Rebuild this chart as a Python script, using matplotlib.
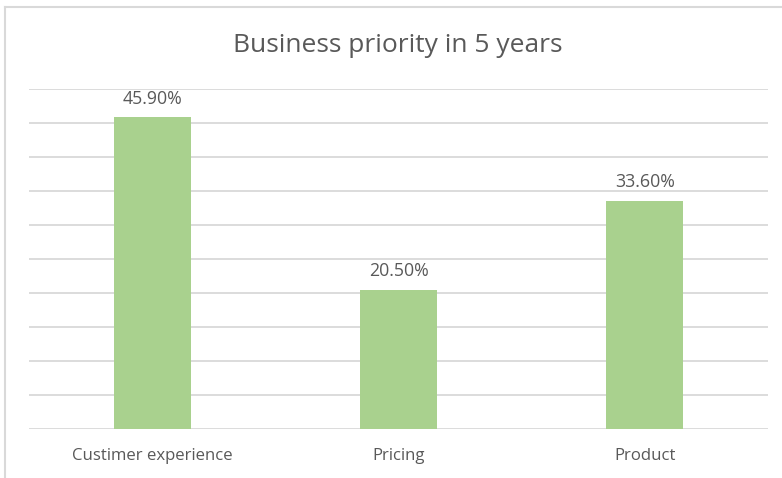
import matplotlib

matplotlib.use("Agg")
import matplotlib.pyplot as plt
from matplotlib.lines import Line2D

categories = ["Custimer experience", "Pricing", "Product"]
shares = [45.9, 20.5, 33.6]
y_ticks = [0, 5, 10, 15, 20, 25, 30, 35, 40, 45, 50]

BAR = "#A9D18E"
GRID = "#D9D9D9"
TEXT = "#595959"
FONT = "Open Sans"

W, H = 782, 478
fig = plt.figure(figsize=(W / 100, H / 100), dpi=100)
ax = fig.add_axes([29 / W, (H - 429) / H, (768 - 29) / W, (429 - 89) / H])

xs = range(len(categories))
bars = ax.bar(xs, shares, width=0.313, color=BAR, zorder=3)
for rect, value in zip(bars, shares):
    ax.annotate(
        f"{value:.2f}%",
        (rect.get_x() + rect.get_width() / 2, value),
        xytext=(0, 9.5),
        textcoords="offset points",
        ha="center",
        va="baseline",
        fontsize=12.8,
        color=TEXT,
        family=FONT,
    )

ax.set_xlim(-0.5, len(categories) - 0.5)
ax.set_ylim(0, 50)
ax.set_yticks(y_ticks)
ax.set_yticklabels([])
ax.tick_params(axis="y", length=0)
ax.set_xticks(list(xs))
ax.set_xticklabels(categories, fontsize=12.1, color=TEXT, family=FONT)
ax.tick_params(axis="x", length=0, pad=14)
ax.grid(True, axis="y", color=GRID, linewidth=1.3, zorder=0)
for spine in ax.spines.values():
    spine.set_visible(False)

fig.text(398 / W, 1 - 46 / H, "Business priority in 5 years", ha="center",
         va="center", fontsize=19, color=TEXT, family=FONT)

# chart-area border (only top and left edges are in frame)
fig.add_artist(Line2D([5 / W, 1], [1 - 7 / H, 1 - 7 / H], color=GRID, linewidth=1.5))
fig.add_artist(Line2D([5 / W, 5 / W], [0, 1 - 7 / H], color=GRID, linewidth=1.5))

fig.savefig("out.png", dpi=100)
